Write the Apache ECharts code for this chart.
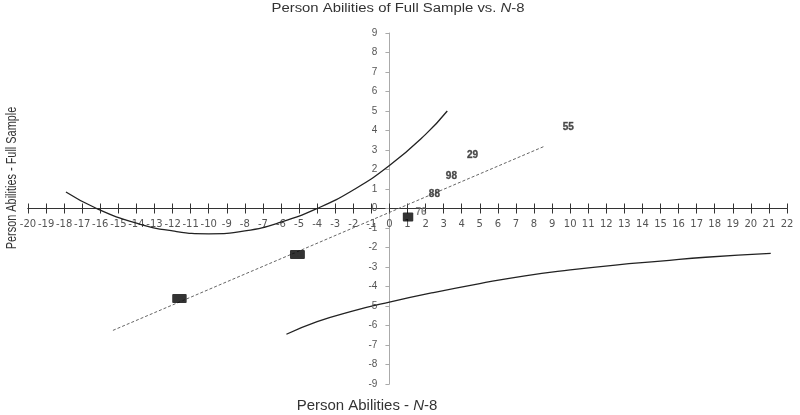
<!DOCTYPE html>
<html>
<head>
<meta charset="utf-8">
<script src="https://cdn.jsdelivr.net/npm/echarts@6/dist/echarts.min.js"></script>
<style>html,body{margin:0;padding:0;background:#fff}#c{width:800px;height:415px}</style>
</head>
<body>
<div id="c"></div>
<script>
// Point labels (person numbers) and their coordinates
const pointNames = ['55', '29', '98', '88', '76', '8', '13', '11'];
const pointX = [9.9, 4.6, 3.43, 2.49, 1.75, 1.03, -5.09, -11.62];
const pointY = [4.15, 2.72, 1.64, 0.72, -0.18, -0.44, -2.36, -4.62];
const pointBoxed = [false, false, false, false, false, true, true, true];

// Dotted trend line
const trendX = [-15.3, 8.6];
const trendY = [-6.25, 3.2];

// Upper curve (parabola-like)
const upperX = [-17.9, -16.2, -14, -12, -10, -8, -6, -4, -2, 0, 2, 3.2];
const upperY = [0.85, 0, -0.75, -1.15, -1.3, -1.15, -0.7, 0, 0.95, 2.2, 3.8, 5.0];

// Lower curve
const lowerX = [-5.7, -4, -2, 0, 2.5, 5, 7.5, 10, 12.5, 15, 17.5, 21.1];
const lowerY = [-6.45, -5.8, -5.25, -4.8, -4.3, -3.85, -3.45, -3.15, -2.9, -2.7, -2.5, -2.3];

const xMin = -20, xMax = 22, yMin = -9, yMax = 9;

const zip = (a, b) => a.map((v, i) => [v, b[i]]);
const FONT = 'Liberation Sans, Arial, sans-serif';
const TICKFONT = 'DejaVu Sans, sans-serif';

const W = 800, H = 415;
const G = { left: 28, right: 13, top: 33, bottom: 31 };
const gw = W - G.left - G.right, gh = H - G.top - G.bottom;
// place axes so they cross at the origin (labels travel with the lines)
const yAxisOffset = -((0 - xMin) / (xMax - xMin) * gw);
const xAxisOffset = -((0 - yMin) / (yMax - yMin) * gh);

const chart = echarts.init(document.getElementById('c'));
chart.setOption({
  animation: false,
  backgroundColor: '#fff',
  grid: { left: G.left, right: G.right, top: G.top, bottom: G.bottom, containLabel: false },
  xAxis: [{
    type: 'value', min: xMin, max: xMax, interval: 1, offset: xAxisOffset,
    axisLine: { onZero: false, lineStyle: { color: '#333', width: 1 } },
    axisTick: { show: true, length: 5, lineStyle: { color: '#333' } },
    axisLabel: { fontFamily: TICKFONT, fontSize: 10, color: '#555', margin: 11, showMinLabel: true, showMaxLabel: true },
    splitLine: { show: false }
  }, {
    type: 'value', min: xMin, max: xMax, interval: 1, position: 'bottom', offset: xAxisOffset,
    axisLine: { onZero: false, lineStyle: { color: '#333', width: 1 } },
    axisTick: { show: true, inside: true, length: 5, lineStyle: { color: '#333' } },
    axisLabel: { show: false },
    splitLine: { show: false }
  }],
  yAxis: {
    type: 'value', min: yMin, max: yMax, interval: 1, offset: yAxisOffset,
    axisLine: { onZero: false, lineStyle: { color: '#aaa', width: 1 } },
    axisTick: { show: true, length: 4, lineStyle: { color: '#aaa' } },
    axisLabel: { fontFamily: FONT, fontSize: 10, color: '#555', margin: 12, showMinLabel: true, showMaxLabel: true },
    splitLine: { show: false }
  },
  graphic: [{
    type: 'text', x: 398, y: 9, scaleX: 1.24,
    style: {
      text: '{a|Person Abilities of Full Sample vs. }{i|N}{a|-8}',
      align: 'center', verticalAlign: 'middle',
      rich: {
        a: { fontFamily: FONT, fontSize: 12, fill: '#333' },
        i: { fontFamily: FONT, fontSize: 12, fill: '#333', fontStyle: 'italic' }
      }
    }
  }, {
    type: 'text', x: 367, y: 406, scaleX: 1.07,
    style: {
      text: '{a|Person Abilities - }{i|N}{a|-8}',
      align: 'center', verticalAlign: 'middle',
      rich: {
        a: { fontFamily: FONT, fontSize: 14, fill: '#333' },
        i: { fontFamily: FONT, fontSize: 14, fill: '#333', fontStyle: 'italic' }
      }
    }
  }, {
    type: 'text', x: 12, y: 178, rotation: Math.PI / 2, scaleX: 0.78,
    style: { text: 'Person Abilities - Full Sample', fontFamily: FONT, fontSize: 14, fill: '#333', align: 'center', verticalAlign: 'middle' }
  }],
  series: [{
    type: 'line', name: 'upper', data: zip(upperX, upperY), smooth: 0.5, symbol: 'none',
    lineStyle: { color: '#222', width: 1.3 }, z: 3
  }, {
    type: 'line', name: 'lower', data: zip(lowerX, lowerY), smooth: 0.5, symbol: 'none',
    lineStyle: { color: '#222', width: 1.3 }, z: 3
  }, {
    type: 'line', name: 'trend', data: zip(trendX, trendY), symbol: 'none',
    lineStyle: { color: '#666', width: 1, type: [3, 2] }, z: 3
  }, {
    type: 'scatter', name: 'persons', symbolSize: 1, itemStyle: { color: 'rgba(0,0,0,0)' },
    data: pointX.map((x, i) => ({
      value: [x, pointY[i]], name: pointNames[i],
      label: pointBoxed[i]
        ? { show: true, position: 'inside', formatter: '{b}', fontFamily: FONT, fontSize: 8, fontWeight: 'bold',
            color: '#333', backgroundColor: '#000', borderRadius: 1, padding: [1, 3, 0, 3] }
        : { show: true, position: 'inside', formatter: '{b}', fontFamily: FONT, fontSize: 10, fontWeight: 'bold',
            color: i === 4 ? '#666' : '#222', textBorderColor: i === 4 ? 'transparent' : '#555', textBorderWidth: i === 4 ? 0 : 0.4 }
    })),
    z: 5
  }]
});
</script>
</body>
</html>
